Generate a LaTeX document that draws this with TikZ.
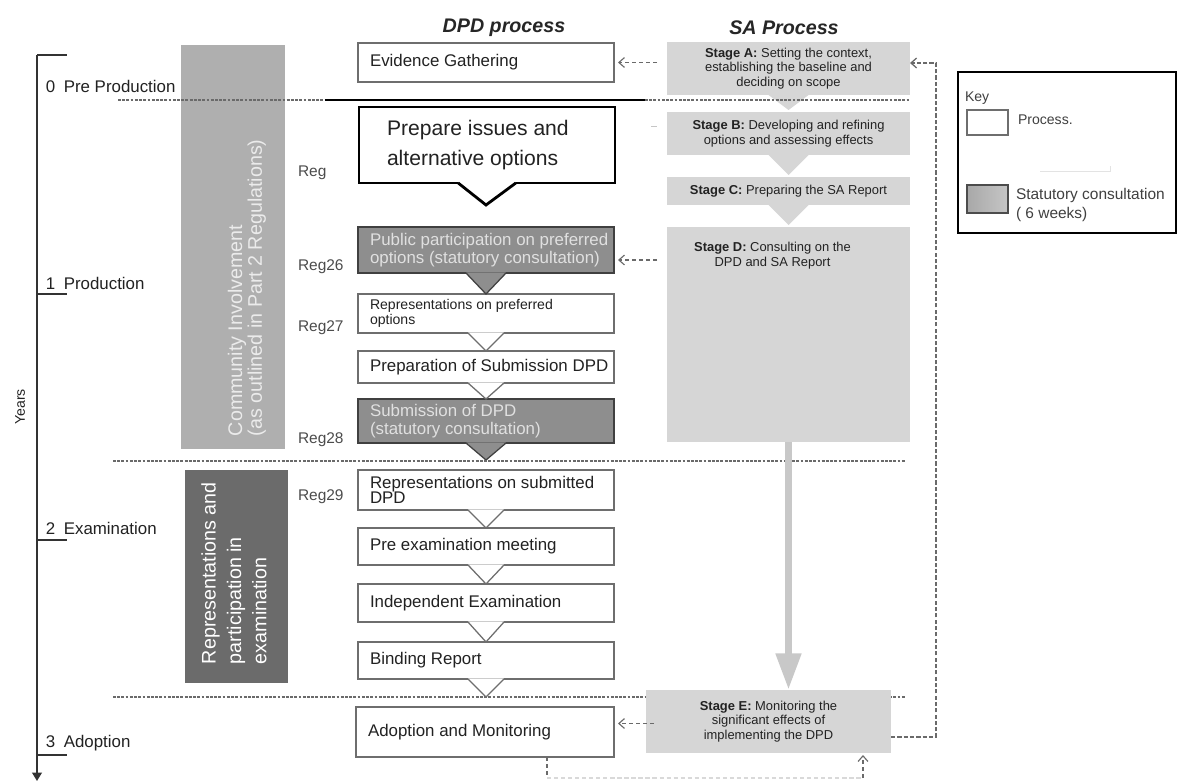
\documentclass[tikz,border=0pt]{standalone}
\usepackage{fontspec}
\setmainfont{Liberation Sans}
\usetikzlibrary{arrows.meta}
\definecolor{txt}{HTML}{222222}
\definecolor{commcol}{HTML}{AFAFAF}
\definecolor{examcol}{HTML}{6B6B6B}
\definecolor{statfill}{HTML}{8E8E8E}
\definecolor{safill}{HTML}{D6D6D6}
\definecolor{bigarrow}{HTML}{C8C8C8}
\definecolor{boxline}{HTML}{6E6E6E}
\definecolor{dashcol}{HTML}{6A6A6A}
\definecolor{swatch}{HTML}{A8A8A8}
\newcommand\myfs[2]{\fontsize{#1}{#2}\selectfont}
% box with left-aligned text (separate named text node)
\newcommand\lbox[7]{\node[#2, anchor=north west,
  minimum width={(#5-#3)*0.025cm}, minimum height={(#6-#4)*0.025cm}] (#1) at (#3,#4) {};
  \node[#2, draw=none, fill=none, anchor=west, align=left] (#1t) at ([xshift=0.3cm]#1.west) {#7};}
% box with centred text
\newcommand\cbox[7]{\node[#2, anchor=north west,
  minimum width={(#5-#3)*0.025cm}, minimum height={(#6-#4)*0.025cm}] (#1) at (#3,#4) {#7};}
\begin{document}
\begin{tikzpicture}[x=0.025cm, y=-0.025cm,
 every node/.style={text=txt, inner sep=0pt, outer sep=0pt},
 proc/.style={draw=boxline, fill=white, line width=0.9pt, font=\myfs{12}{12}},
 stat/.style={draw=black!75, fill=statfill, line width=0.9pt, text=white!88!black, font=\myfs{12}{12.5}},
 sabox/.style={fill=safill, align=center, font=\myfs{9.2}{10.5}},
 sepline/.style={dashcol, line width=0.8pt, dash pattern=on 2pt off 1pt},
 dasharrow/.style={dashcol, line width=0.8pt, dash pattern=on 3pt off 2pt, -{Straight Barb[length=4pt,width=7pt]}},
 notchline/.style={boxline, line width=0.9pt},
 axislbl/.style={anchor=west, font=\myfs{12}{14}},
 reglbl/.style={anchor=west, font=\myfs{11}{13}, text=black!70},
 coltext/.style={rotate=90, anchor=west, align=left},
 headtxt/.style={font=\myfs{14}{16}\bfseries\itshape, text=black!85},
]
\fill[white] (0,0) rectangle (1179,782);
\useasboundingbox (0,0) rectangle (1179,782);

% side columns
\node[fill=commcol, anchor=north west, minimum width={104*0.025cm}, minimum height={404*0.025cm}] (comm) at (181,45) {};
\node[fill=examcol, anchor=north west, minimum width={103*0.025cm}, minimum height={213*0.025cm}] (exam) at (185,470) {};
\node[coltext, text=white!92!black, font=\myfs{14}{12.5}] (commtxt) at (247,436) {Community Involvement\\(as outlined in Part 2 Regulations)};
\node[coltext, text=white, font=\myfs{14}{18}] (examtxt) at (234,664) {Representations and\\participation in\\examination};

% lower separator (behind Stage E)
\draw[sepline] (113,697) -- (905,697);

% timeline
\coordinate (ttop) at (37,55);
\coordinate (tbot) at (37,781);
\draw[black!80, line width=1pt, -{Triangle[length=6pt,width=7pt]}] (ttop) -- (tbot);
\draw[black!80, line width=1pt] (ttop) -- ++(30,0);
\draw[black!80, line width=1pt] (37,294) -- ++(30,0);
\draw[black!80, line width=1pt] (37,540) -- ++(30,0);
\draw[black!80, line width=1pt] (37,755) -- ++(30,0);
\node[axislbl] (l0) at (46,86) {0\enspace Pre Production};
\node[axislbl] (l1) at (46,283) {1\enspace Production};
\node[axislbl] (l2) at (46,528) {2\enspace Examination};
\node[axislbl] (l3) at (46,743) {3\enspace Adoption};
\node[rotate=90, font=\myfs{10}{12}] (years) at (20,407) {Years};

% Reg labels
\node[reglbl] (r0) at (298,173) {Reg};
\node[reglbl] (r26) at (298,267) {Reg26};
\node[reglbl] (r27) at (298,328) {Reg27};
\node[reglbl] (r28) at (298,440) {Reg28};
\node[reglbl] (r29) at (298,497) {Reg29};

% titles
\node[headtxt] (t1) at (504,28) {DPD process};
\node[headtxt] (t2) at (784,28) {SA Process};

% DPD boxes
\lbox{ev}{proc}{358}{43}{614}{82}{Evidence Gathering}
\lbox{pr}{proc, draw=black, line width=2pt, font=\myfs{15}{21}}{359}{107}{615}{183}{\hspace*{0.4cm}Prepare issues and\\\hspace*{0.4cm}alternative options}
\lbox{pp}{stat}{358}{227}{614}{273}{Public participation on preferred\\options (statutory consultation)}
\lbox{rp}{proc, font=\myfs{10}{10.5}}{358}{294}{614}{333}{Representations on preferred\\options}
\lbox{ps}{proc}{358}{351}{614}{383}{Preparation of Submission DPD}
\lbox{sub}{stat}{358}{399}{614}{443}{Submission of DPD\\(statutory consultation)}
\lbox{rs}{proc, font=\myfs{12}{11}}{358}{470}{614}{510}{Representations on submitted\\DPD}
\lbox{pe}{proc}{358}{528}{614}{565}{Pre examination meeting}
\lbox{ie}{proc}{358}{584}{614}{622}{Independent Examination}
\lbox{br}{proc}{358}{642}{614}{679}{Binding Report}
\lbox{ad}{proc}{356}{707}{614}{757}{Adoption and Monitoring}

% SA boxes
\cbox{sa}{sabox}{667}{42}{910}{95}{\textbf{Stage A:} Setting the context,\\establishing the baseline and\\deciding on scope}
\cbox{sb}{sabox}{667}{112}{910}{155}{\textbf{Stage B:} Developing and refining\\options and assessing effects}
\cbox{sc}{sabox}{667}{177}{910}{205}{\textbf{Stage C:} Preparing the SA Report}
\cbox{sd}{sabox}{667}{227}{910}{442}{}
\node[font=\myfs{9.2}{10.5}, align=center, anchor=north] (sdtxt) at ([xshift=-0.4cm,yshift=-0.38cm]sd.north) {\textbf{Stage D:} Consulting on the\\DPD and SA Report};
\cbox{se}{sabox}{646}{690}{891}{753}{\textbf{Stage E:} Monitoring the\\significant effects of\\implementing the DPD}

% SA chevrons
\coordinate (abApex) at ([yshift=0.05cm]sb.north);
\coordinate (bcApex) at ([yshift=0.05cm]sc.north);
\coordinate (cdApex) at ([yshift=0.05cm]sd.north);
\fill[safill] ([xshift=-0.5cm]sa.south) -- (abApex) -- ([xshift=0.5cm]sa.south) -- cycle;
\fill[safill] ([xshift=-0.5cm]sb.south) -- (bcApex) -- ([xshift=0.5cm]sb.south) -- cycle;
\fill[safill] ([xshift=-0.5cm]sc.south) -- (cdApex) -- ([xshift=0.5cm]sc.south) -- cycle;

% DPD notches
\coordinate (prApex) at (486,205);
\fill[white] ([xshift=-0.72cm,yshift=0.8pt]pr.south) -- (prApex) -- ([xshift=0.72cm,yshift=0.8pt]pr.south) -- cycle;
\draw[black, line width=2pt, line join=miter] ([xshift=-0.72cm]pr.south) -- (prApex) -- ([xshift=0.72cm]pr.south);

\fill[statfill] ([xshift=-0.5cm,yshift=0.5pt]pp.south) -- (rp.north) -- ([xshift=0.5cm,yshift=0.5pt]pp.south) -- cycle;
\draw[black!75, line width=0.9pt] ([xshift=-0.5cm]pp.south) -- (rp.north) -- ([xshift=0.5cm]pp.south);

\newcommand\vnotch[2]{%
 \fill[white] ([xshift=-0.45cm,yshift=0.5pt]#1.south) -- (#2) -- ([xshift=0.45cm,yshift=0.5pt]#1.south) -- cycle;
 \draw[notchline] ([xshift=-0.45cm]#1.south) -- (#2) -- ([xshift=0.45cm]#1.south);}
\vnotch{rp}{ps.north}
\vnotch{ps}{sub.north}
\vnotch{rs}{pe.north}
\vnotch{pe}{ie.north}
\vnotch{ie}{br.north}
\coordinate (brApex) at (486,697);
\vnotch{br}{brApex}

\coordinate (subApex) at (486,460);
\fill[statfill] ([xshift=-0.5cm,yshift=0.5pt]sub.south) -- (subApex) -- ([xshift=0.5cm,yshift=0.5pt]sub.south) -- cycle;
\draw[black!75, line width=0.9pt] ([xshift=-0.5cm]sub.south) -- (subApex) -- ([xshift=0.5cm]sub.south);

% separators
\draw[sepline] (118,100) -- (325,100);
\draw[black, line width=1.2pt] (325,100) -- (645,100);
\draw[sepline] (645,100) -- (910,100);
\draw[sepline] (113,461) -- (905,461);

% big arrow D -> E
\draw[bigarrow, line width=5.5pt, -{Triangle[length=26pt,width=17pt]}] (sd.south) -- (sd.south |- se.north);

% dashed arrows SA -> DPD
\draw[dasharrow, shorten <=0.25cm, shorten >=0.1cm] (sa.west |- ev.east) -- (ev.east);
\coordinate (ppa) at ([yshift=-0.25cm]pp.east);
\draw[dasharrow, shorten <=0.25cm, shorten >=0.1cm] (sd.west |- ppa) -- (ppa);
\coordinate (sea) at ([yshift=-0.05cm]se.west);
\draw[dasharrow, shorten <=-0.2cm, shorten >=0.1cm] (sea) -- (ad.east |- sea);
\draw[gray!45, line width=0.7pt] ([xshift=-0.4cm,yshift=0.18cm]sb.west) -- ++(6,0);

% feedback loop E -> A
\coordinate (fbB) at (936,737);
\coordinate (fbT) at (936,63);
\draw[dashcol, line width=0.9pt, dash pattern=on 3pt off 1.5pt, -{Straight Barb[length=4pt,width=7pt]}]
  (se.east |- fbB) -- (fbB) -- (fbT) -- (sa.east |- fbT);

% bottom loop Adoption -> E
\coordinate (bl1) at (547,778);
\coordinate (bl2) at (863,778);
\draw[dashcol, line width=0.8pt, dash pattern=on 3pt off 2pt] (ad.south -| bl1) -- (bl1);
\draw[gray!30, line width=0.8pt, dash pattern=on 3pt off 2pt] (bl1) -- (bl2);
\draw[dashcol, line width=0.8pt, dash pattern=on 3pt off 2pt, -{Straight Barb[length=4pt,width=7pt]}] (bl2) -- ([yshift=-0.05cm]se.south -| bl2);

% key
\node[draw=black, line width=2pt, anchor=north west, minimum width={218*0.025cm}, minimum height={161*0.025cm}] (key) at (958,72) {};
\node[anchor=west, font=\myfs{10}{12}, text=black!75] (keyt) at (965,98) {Key};
\node[draw=boxline, fill=white, line width=0.8pt, anchor=north west, minimum width={41*0.025cm}, minimum height={25*0.025cm}] (kp) at (967,110) {};
\node[anchor=west, font=\myfs{10}{12}, text=black!75] (kpt) at (1018,120) {Process.};
\draw[gray!22, line width=0.6pt] (1040,171) -- (1110,171);
\draw[gray!22, line width=0.6pt] (1110,166) -- (1110,172);
\node[draw=black!70, left color=swatch, right color=gray!45, line width=0.8pt, anchor=north west, minimum width={41*0.025cm}, minimum height={28*0.025cm}] (ks) at (967,185) {};
\node[anchor=west, font=\myfs{11}{13}, text=black!75, align=left] (kst) at (1016,205) {Statutory consultation\\( 6 weeks)};
\end{tikzpicture}
\end{document}
